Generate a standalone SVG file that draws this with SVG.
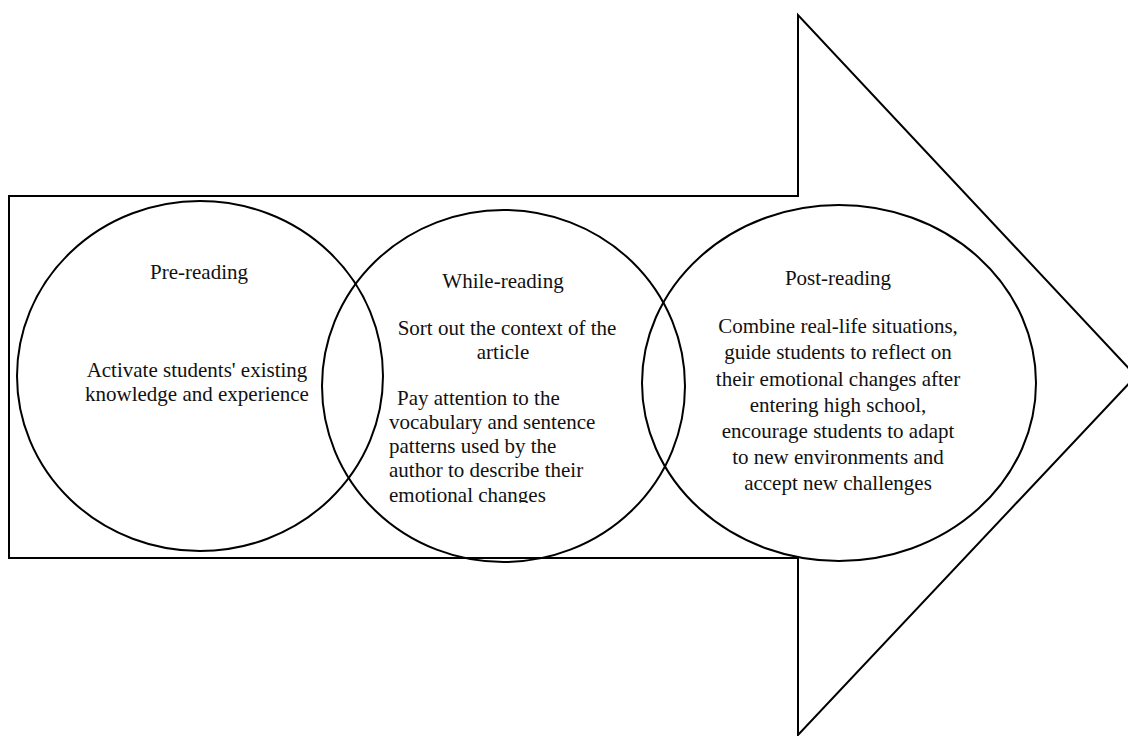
<svg xmlns="http://www.w3.org/2000/svg" width="1128" height="736" viewBox="0 0 1128 736">
<style>
.shape{fill:none;stroke:#000;stroke-width:2}
.t{font-family:"Liberation Serif","Times New Roman",serif;font-size:21px;fill:#111}
.c{text-anchor:middle}
</style>
<defs>
<clipPath id="clipWhile"><rect x="380" y="380" width="260" height="123"/></clipPath>
</defs>
<rect width="1128" height="736" fill="#fff"/>
<g id="arrow">
<path class="shape" d="M9,196 L798,196 L798,15 L1136,376 L798,735 L798,558 L9,558 Z" style="fill:#fff"/>
</g>
<g id="pre-reading">
<ellipse class="shape" cx="200" cy="376" rx="183" ry="175"/>
<text class="t c" x="199" y="279">Pre-reading</text>
<text class="t c" x="197" y="377">Activate students' existing</text>
<text class="t c" x="197" y="401">knowledge and experience</text>
</g>
<g id="while-reading">
<ellipse class="shape" cx="503.5" cy="386" rx="181.5" ry="176"/>
<text class="t c" x="503" y="288">While-reading</text>
<text class="t c" x="507" y="335">Sort out the context of the</text>
<text class="t c" x="503" y="359">article</text>
<g clip-path="url(#clipWhile)">
<text class="t" x="397" y="405">Pay attention to the</text>
<text class="t" x="389" y="429">vocabulary and sentence</text>
<text class="t" x="389" y="453">patterns used by the</text>
<text class="t" x="389" y="477">author to describe their</text>
<text class="t" x="389" y="502">emotional changes</text>
</g>
</g>
<g id="post-reading">
<ellipse class="shape" cx="839" cy="383" rx="197" ry="178"/>
<text class="t c" x="838" y="285">Post-reading</text>
<text class="t c" x="838" y="333">Combine real-life situations,</text>
<text class="t c" x="838" y="359">guide students to reflect on</text>
<text class="t c" x="838" y="386">their emotional changes after</text>
<text class="t c" x="838" y="412">entering high school,</text>
<text class="t c" x="838" y="438">encourage students to adapt</text>
<text class="t c" x="838" y="464">to new environments and</text>
<text class="t c" x="838" y="490">accept new challenges</text>
</g>
<g id="connectors"></g>
</svg>
